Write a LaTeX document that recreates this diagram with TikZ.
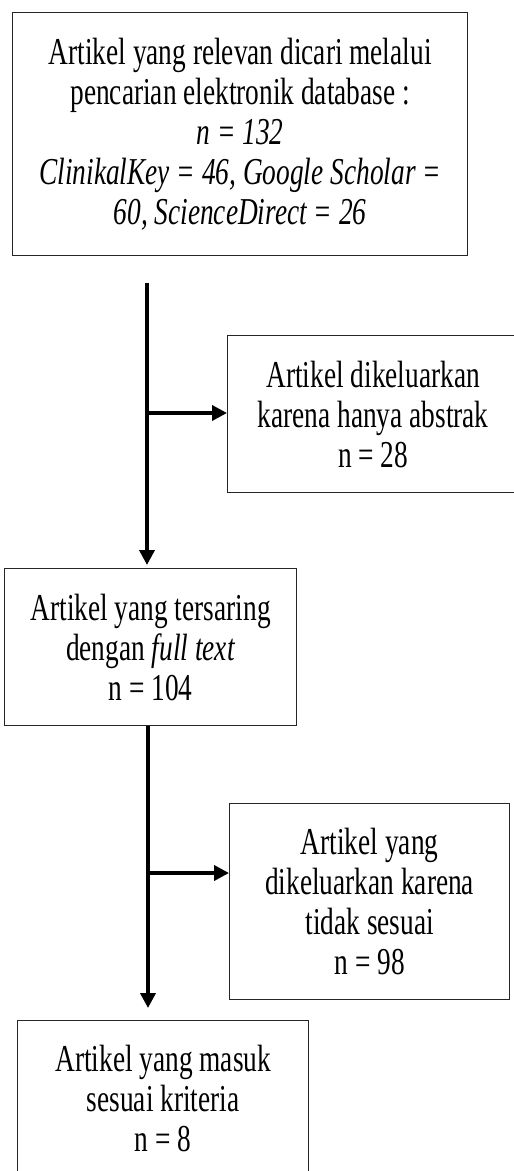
\documentclass[tikz,border=0pt]{standalone}
\usepackage{fontspec}
\setmainfont[FakeStretch=0.72]{Liberation Serif}
\usetikzlibrary{arrows.meta}
\tikzset{
        box/.style={draw=black!85, line width=1.3pt, inner sep=0pt, align=center, anchor=north west, font=\fontsize{38}{40}\selectfont}, % every box of the flow
        flow/.style={line width=3.6pt, -{Triangle[width=15pt,length=15pt]}}, % the thick arrows
}

\begin{document}
\begin{tikzpicture}[x=1pt, y=-1pt]
      \clip (0,0) rectangle (514,1171);
      \node[box, minimum width=455pt, minimum height=243pt] (search) at (12,12) {Artikel yang relevan dicari melalui\\ pencarian elektronik database :\\ \textit{n = 132}\\ \textit{ClinikalKey = 46, Google Scholar =}\\ \textit{60, ScienceDirect = 26}};
      \node[box, minimum width=291pt, minimum height=157pt] (abstrak) at (227,335) {Artikel dikeluarkan\\ karena hanya abstrak\\ n = 28};
      \node[box, minimum width=292pt, minimum height=157pt] (fulltext) at (4,568) {Artikel yang tersaring\\ dengan \textit{full text}\\ n = 104};
      \node[box, minimum width=280pt, minimum height=196pt] (sesuai) at (229,803) {Artikel yang\\ dikeluarkan karena\\ tidak sesuai\\ n = 98};
      \node[box, minimum width=291pt, minimum height=155pt] (masuk) at (17,1020) {Artikel yang masuk\\ sesuai kriteria\\ n = 8};
      \coordinate (start) at (147,283);
      \coordinate (split1) at (147,413);
      \coordinate (split2) at (148,873);
      \draw[flow, shorten >=3pt] (start) -- (fulltext.north -| start);
      \draw[flow] (split1) -- (abstrak.west |- split1);
      \draw[flow, shorten >=12pt] (fulltext.south -| split2) -- (masuk.north -| split2);
      \draw[flow] (split2) -- (sesuai.west |- split2);
    \end{tikzpicture}
\end{document}
